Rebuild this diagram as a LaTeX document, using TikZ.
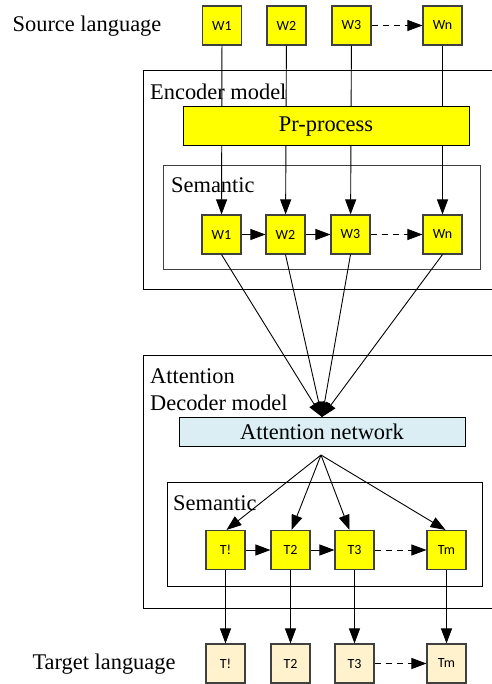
\documentclass[tikz,border=0pt]{standalone}
\usepackage{fontspec}
\setmainfont{Liberation Serif}
\newfontfamily\boxfont{Carlito}
\usetikzlibrary{arrows.meta,calc}
\definecolor{boxyellow}{HTML}{FFFF00}
\definecolor{boxcream}{HTML}{FFF2CC}
\definecolor{attblue}{HTML}{DAEEF3}
\definecolor{bordergray}{HTML}{404040}
\begin{document}
\begin{tikzpicture}[x=1pt,y=-1pt,
  wordbox/.style={draw=bordergray,line width=1.1pt,fill=boxyellow,minimum width=39pt,minimum height=39pt,inner sep=0pt,font=\boxfont\fontsize{14}{16}\selectfont},
  targetbox/.style={wordbox,fill=boxcream},
  frame/.style={draw=black,line width=1pt},
  bigtext/.style={font=\fontsize{22.4}{27}\selectfont,inner sep=0pt},
  conn/.style={line width=0.9pt,-{Triangle[length=15pt,width=11pt]}},
  dconn/.style={conn,dash pattern=on 6pt off 5pt},
  plain/.style={line width=0.9pt}]
\useasboundingbox (0,0) rectangle (491,684);
% source
\node[bigtext] (srclabel) at (87,26) {Source language};
\node[wordbox] (s1) at (222,25.5) {W1};
\node[wordbox] (s2) at (286.5,25.5) {W2};
\node[wordbox] (s3) at (351.5,25.5) {W3};
\node[wordbox] (sn) at (442.5,25.5) {Wn};
\draw[dconn] (s3) -- (sn);
% encoder frame
\draw[frame] (143,71) rectangle (500,289);
\node[bigtext,anchor=west] (enclabel) at (150,92) {Encoder model};
% semantic box
\draw[frame,draw=bordergray] (163,166) rectangle (480,269);
\node[bigtext,anchor=west] (sem1label) at (171,185) {Semantic};
\node[wordbox] (w1) at (221.5,234.5) {W1};
\node[wordbox] (w2) at (285.5,234.5) {W2};
\node[wordbox] (w3) at (350.5,234.5) {W3};
\node[wordbox] (wn) at (442.5,234.5) {Wn};
% vertical connectors
\draw[conn] (s1) -- (w1);
\draw[conn] (s2) -- (w2);
\draw[conn] (s3) -- (w3);
\draw[conn] (sn) -- (wn);
% pre-process on top of lines
\node[draw=black,line width=1pt,fill=boxyellow,minimum width=286pt,minimum height=39pt,inner sep=0pt,font=\fontsize{22.4}{27}\selectfont] (pre) at (326,126.5) {Pr-process};
\draw[conn] (w1) -- (w2);
\draw[conn] (w2) -- (w3);
\draw[dconn] (w3) -- (wn);
% attention frame
\draw[frame] (143,355) rectangle (500,608);
\node[bigtext,anchor=west] (attlabel) at (150,376) {Attention};
\node[bigtext,anchor=west] (declabel) at (150,403) {Decoder model};
\node[draw=black,line width=1pt,fill=attblue,minimum width=286pt,minimum height=29pt,inner sep=0pt,font=\fontsize{22.4}{27}\selectfont] (att) at (322,431.5) {Attention network};
\coordinate (fanin) at (322,417);
\coordinate (fanout) at (321,455);
\draw[conn] (w1.south) -- (fanin);
\draw[conn] (w2.south) -- (fanin);
\draw[conn] (w3.south) -- (fanin);
\draw[conn] (wn.south) -- (fanin);
% decoder semantic
\draw[frame] (167,482) rectangle (482,586);
\node[bigtext,anchor=west] (sem2label) at (173,503) {Semantic};
\node[wordbox] (t1) at (225.5,550) {T!};
\node[wordbox] (t2) at (290.5,550) {T2};
\node[wordbox] (t3) at (354.5,550) {T3};
\node[wordbox] (tm) at (446.5,550) {Tm};
\draw[conn] (fanout) -- ($(t1.north)+(1,0)$);
\draw[conn] (fanout) -- ($(t2.north)+(1,0)$);
\draw[conn] (fanout) -- ($(t3.north)+(-5,0)$);
\draw[conn] (fanout) -- ($(tm.north)+(-1,0)$);
\draw[conn] (t1) -- (t2);
\draw[conn] (t2) -- (t3);
\draw[dconn] (t3) -- (tm);
% target
\node[bigtext] (tgtlabel) at (104,664) {Target language};
\node[targetbox] (g1) at (225.5,663.5) {T!};
\node[targetbox] (g2) at (290.5,663.5) {T2};
\node[targetbox] (g3) at (354.5,663.5) {T3};
\node[targetbox] (gm) at (446.5,663.5) {Tm};
\draw[conn] (t1) -- (g1);
\draw[conn] (t2) -- (g2);
\draw[conn] (t3) -- (g3);
\draw[conn] (tm) -- (gm);
\draw[dconn] (g3) -- (gm);
\end{tikzpicture}
\end{document}
